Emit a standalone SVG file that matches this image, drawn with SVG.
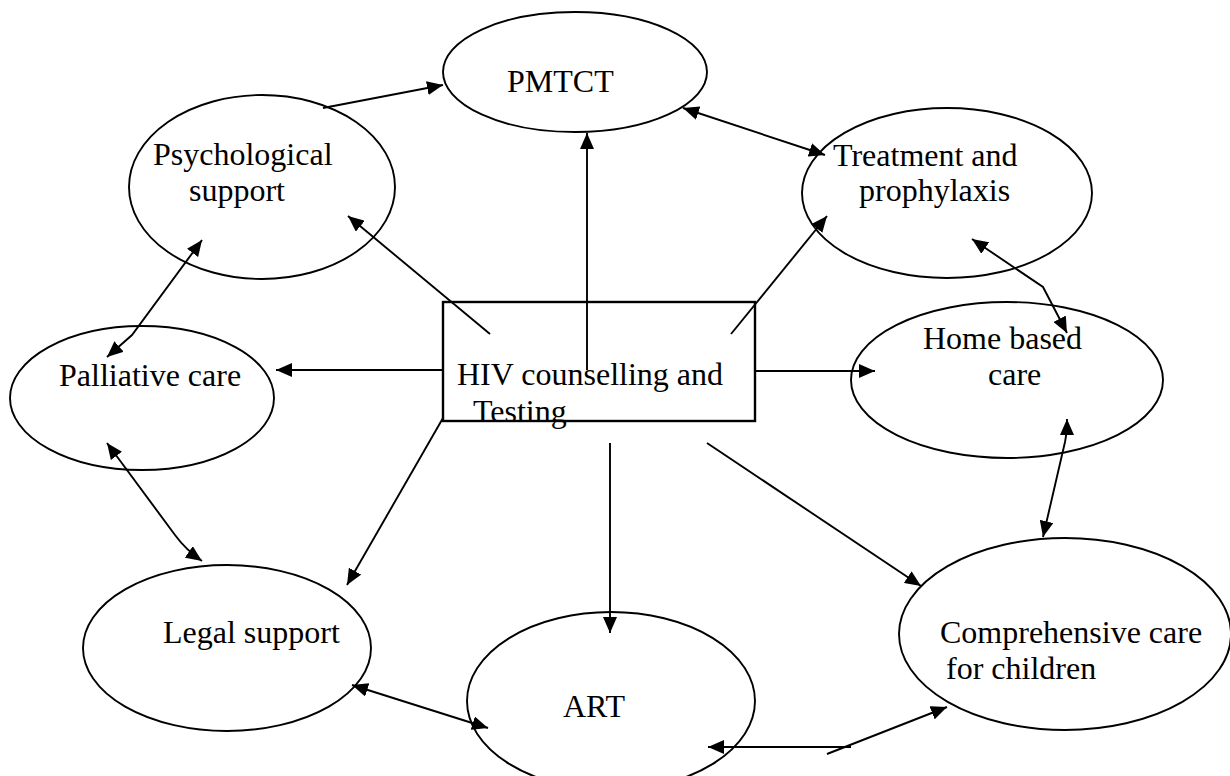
<svg xmlns="http://www.w3.org/2000/svg" width="1230" height="776" viewBox="0 0 1230 776">
<style>
.node ellipse{fill:#fff;stroke:#000;stroke-width:1.9}
.node rect{fill:#fff;stroke:#000;stroke-width:2.4}
text{font-family:"Liberation Serif","Times New Roman",serif;font-size:32px;fill:#000}
.conn path{fill:none;stroke:#000;stroke-width:1.9}
.s{marker-end:url(#ah)}
.d{marker-start:url(#ah);marker-end:url(#ah)}
</style>
<defs>
<marker id="ah" markerUnits="userSpaceOnUse" markerWidth="16" markerHeight="14" refX="16" refY="7" orient="auto-start-reverse">
<path d="M0,0 L16,7 L0,14 z" fill="#000"/>
</marker>
</defs>
<rect width="1230" height="776" fill="#fff"/>
<g id="pmtct" class="node"><ellipse cx="575" cy="72" rx="132" ry="60"/><text x="507" y="92">PMTCT</text></g>
<g id="psych" class="node"><ellipse cx="262" cy="187" rx="133" ry="92"/><text x="153" y="165">Psychological</text><text x="189" y="201">support</text></g>
<g id="treatment" class="node"><ellipse cx="947" cy="193" rx="145" ry="85"/><text x="833" y="166">Treatment and</text><text x="859" y="201">prophylaxis</text></g>
<g id="palliative" class="node"><ellipse cx="142" cy="398" rx="132" ry="72"/><text x="59" y="386">Palliative care</text></g>
<g id="home" class="node"><ellipse cx="1007" cy="380" rx="156" ry="78"/><text x="923" y="349">Home based</text><text x="988" y="385">care</text></g>
<g id="legal" class="node"><ellipse cx="227" cy="648" rx="144" ry="83"/><text x="163" y="643">Legal support</text></g>
<g id="art" class="node"><ellipse cx="611" cy="701" rx="144" ry="89"/><text x="563" y="717">ART</text></g>
<g id="children" class="node"><ellipse cx="1065" cy="634" rx="166" ry="96"/><text x="940" y="643">Comprehensive care</text><text x="946" y="679">for children</text></g>
<g id="hiv" class="node"><rect x="443" y="302" width="312" height="119"/><text x="457" y="385">HIV counselling and</text><text x="473" y="422">Testing</text></g>
<g id="connectors" class="conn">
<path class="s" d="M323,108 L443,85"/>
<path class="s" d="M587,370 L587,133"/>
<path class="d" d="M683,108 L825,155"/>
<path class="s" d="M490,334 L348,216"/>
<path class="s" d="M731,334 L827,216"/>
<path class="s" d="M443,370 L276,370"/>
<path class="s" d="M755,371 L875,371"/>
<path class="d" d="M972,239 L1043,287 L1067,333"/>
<path class="d" d="M202,240 L132,335 L107,357"/>
<path class="d" d="M107,443 L175,535 Q186,550 202,561"/>
<path class="s" d="M443,418 L347,585"/>
<path class="s" d="M610,443 L610,633"/>
<path class="s" d="M707,443 L921,586"/>
<path class="d" d="M1067,419 Q1067,432 1065,442 L1043,537"/>
<path class="d" d="M352,685 L488,728"/>
<path style="marker-start:url(#ah)" d="M708,747 L851,747"/>
<path class="s" d="M827,754 L947,707"/>
</g>
</svg>
